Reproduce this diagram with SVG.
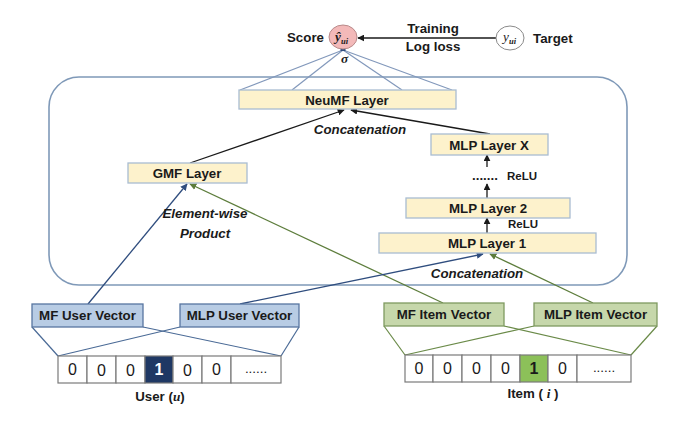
<svg xmlns="http://www.w3.org/2000/svg" width="678" height="422" viewBox="0 0 678 422">
<style>
text{font-family:"Liberation Sans",Arial,sans-serif;font-weight:bold;font-size:13.3px;fill:#1a1a1a}
.c{text-anchor:middle}
.it{font-style:italic}
.sm{font-size:11.5px}
.y{fill:#fdf2cc;stroke:#a9bcd2;stroke-width:1.3}
.ub{fill:#b8cce4;stroke:#5876a0;stroke-width:1.3}
.ib{fill:#c6d7ab;stroke:#7f9a60;stroke-width:1.3}
.cell{fill:#fff;stroke:#7a7a7a;stroke-width:1.2}
.num{font-weight:normal;font-size:16px}
.k{stroke:#1a1a1a;stroke-width:1.3;fill:none}
.b{stroke:#2f4d7e;stroke-width:1.3;fill:none}
.g{stroke:#5d7d3c;stroke-width:1.3;fill:none}
.lb{stroke:#4a6a96;stroke-width:1.2;fill:none}
.lg{stroke:#6a8a48;stroke-width:1.2;fill:none}
.top{stroke:#8298bb;stroke-width:1.2;fill:none}
.serif{font-family:"Liberation Serif","Times New Roman",serif}
</style>
<defs>
<marker id="ak" viewBox="0 0 10 10" refX="9" refY="5" markerWidth="7" markerHeight="7" orient="auto-start-reverse" markerUnits="userSpaceOnUse"><path d="M0,0L10,5L0,10z" fill="#1a1a1a"/></marker>
<marker id="ab" viewBox="0 0 10 10" refX="9" refY="5" markerWidth="7" markerHeight="7" orient="auto" markerUnits="userSpaceOnUse"><path d="M0,0L10,5L0,10z" fill="#2f4d7e"/></marker>
<marker id="ag" viewBox="0 0 10 10" refX="9" refY="5" markerWidth="7" markerHeight="7" orient="auto" markerUnits="userSpaceOnUse"><path d="M0,0L10,5L0,10z" fill="#5d7d3c"/></marker>
</defs>
<rect width="678" height="422" fill="#fff"/>
<rect id="ncf-frame" x="49" y="77" width="578" height="208" rx="30" ry="30" fill="none" stroke="#7f99b8" stroke-width="1.6"/>
<g id="connectors">
<line class="top" x1="240" y1="90" x2="343" y2="50"/>
<line class="top" x1="292" y1="90" x2="343" y2="50"/>
<line class="top" x1="402" y1="90" x2="343" y2="50"/>
<line class="top" x1="452" y1="90" x2="343" y2="50"/>
<rect x="340.5" y="48" width="5" height="3" fill="#2f4d7e"/>
<line class="k" x1="496" y1="38" x2="358" y2="38" marker-end="url(#ak)"/>
<line class="k" x1="190" y1="163" x2="344" y2="110" marker-end="url(#ak)"/>
<line class="k" x1="490" y1="134" x2="351" y2="110" marker-end="url(#ak)"/>
<line class="k" x1="487" y1="167" x2="487" y2="155" marker-end="url(#ak)"/>
<line class="k" x1="487" y1="198" x2="487" y2="184" marker-end="url(#ak)"/>
<line class="k" x1="487" y1="233" x2="487" y2="218" marker-end="url(#ak)"/>
<line class="b" x1="88" y1="304" x2="187" y2="184" marker-end="url(#ab)"/>
<line class="g" x1="443" y1="303" x2="190" y2="184" marker-end="url(#ag)"/>
<line class="b" x1="240" y1="304" x2="483" y2="254" marker-end="url(#ab)"/>
<line class="g" x1="593" y1="303" x2="490" y2="254" marker-end="url(#ag)"/>
<line class="lb" x1="32" y1="327" x2="58" y2="356"/>
<line class="lb" x1="143" y1="327" x2="281" y2="356"/>
<line class="lb" x1="180" y1="327" x2="58" y2="356"/>
<line class="lb" x1="299" y1="327" x2="281" y2="356"/>
<line class="lg" x1="384" y1="326" x2="405" y2="355"/>
<line class="lg" x1="504" y1="326" x2="631" y2="355"/>
<line class="lg" x1="534" y1="326" x2="405" y2="355"/>
<line class="lg" x1="657" y1="326" x2="631" y2="355"/>
</g>
<g id="score">
<ellipse cx="343" cy="37" rx="14" ry="12" fill="#f3b9b9" stroke="#b88a8a" stroke-width="1"/>
<text class="serif it" x="335" y="41" font-size="15">ŷ<tspan font-size="8.5" dy="3">ui</tspan></text>
<text x="287" y="42">Score</text>
<text class="serif it" x="341" y="63" font-size="15">σ</text>
</g>
<g id="target">
<ellipse cx="510" cy="38" rx="14" ry="12" fill="#fff" stroke="#8a8a8a" stroke-width="1"/>
<text class="serif it" x="503" y="41" font-size="15" style="font-weight:normal">y<tspan font-size="8.5" dy="3" style="font-weight:bold">ui</tspan></text>
<text x="533" y="43">Target</text>
</g>
<g id="loss-label">
<text class="c" x="433" y="33">Training</text>
<text class="c" x="433" y="51">Log loss</text>
</g>
<g id="neumf-layer">
<rect class="y" x="239" y="90" width="217" height="19"/>
<text class="c" x="347" y="104.5">NeuMF Layer</text>
</g>
<text class="c it" x="360" y="134">Concatenation</text>
<g id="gmf-layer">
<rect class="y" x="128" y="163" width="119" height="20"/>
<text class="c" x="187" y="178">GMF Layer</text>
</g>
<text class="c it" x="205" y="218">Element-wise</text>
<text class="c it" x="205" y="238">Product</text>
<g id="mlp-layer-x">
<rect class="y" x="431" y="134" width="117" height="21"/>
<text class="c" x="489" y="149.5">MLP Layer X</text>
</g>
<text x="472" y="180">.......</text>
<text class="sm" x="507" y="180">ReLU</text>
<g id="mlp-layer-2">
<rect class="y" x="406" y="198" width="164" height="20"/>
<text class="c" x="488" y="213">MLP Layer 2</text>
</g>
<text class="sm" x="508" y="228">ReLU</text>
<g id="mlp-layer-1">
<rect class="y" x="379" y="233" width="217" height="20"/>
<text class="c" x="487" y="248">MLP Layer 1</text>
</g>
<text class="c it" x="477" y="278">Concatenation</text>
<g id="mf-user-vector">
<rect class="ub" x="32" y="304" width="111" height="23"/>
<text class="c" x="87.5" y="320">MF User Vector</text>
</g>
<g id="mlp-user-vector">
<rect class="ub" x="180" y="304" width="119" height="23"/>
<text class="c" x="239.5" y="320">MLP User Vector</text>
</g>
<g id="mf-item-vector">
<rect class="ib" x="384" y="303" width="120" height="23"/>
<text class="c" x="444" y="319">MF Item Vector</text>
</g>
<g id="mlp-item-vector">
<rect class="ib" x="534" y="303" width="123" height="23"/>
<text class="c" x="595.5" y="319">MLP Item Vector</text>
</g>
<g id="user-onehot">
<rect class="cell" x="58" y="356" width="29" height="27"/>
<rect class="cell" x="87" y="356" width="29" height="27"/>
<rect class="cell" x="116" y="356" width="29" height="27"/>
<rect x="145" y="356" width="28" height="27" fill="#1f3864" stroke="#7a7a7a" stroke-width="1.2"/>
<rect class="cell" x="173" y="356" width="29" height="27"/>
<rect class="cell" x="202" y="356" width="29" height="27"/>
<rect class="cell" x="231" y="356" width="50" height="27"/>
<text class="c num" x="72.5" y="375">0</text>
<text class="c num" x="101.5" y="376">0</text>
<text class="c num" x="130.5" y="376">0</text>
<text class="c num" x="159" y="375" style="fill:#fff;font-weight:bold">1</text>
<text class="c num" x="187.5" y="376">0</text>
<text class="c num" x="216.5" y="375">0</text>
<text class="c" x="256" y="373" font-size="11" style="font-weight:normal">......</text>
<text class="c" x="160" y="401">User (<tspan class="serif it">u</tspan>)</text>
</g>
<g id="item-onehot">
<rect class="cell" x="405" y="355" width="28" height="27"/>
<rect class="cell" x="433" y="355" width="29" height="27"/>
<rect class="cell" x="462" y="355" width="29" height="27"/>
<rect class="cell" x="491" y="355" width="29" height="27"/>
<rect x="520" y="355" width="28" height="27" fill="#8cc059" stroke="#7a7a7a" stroke-width="1.2"/>
<rect class="cell" x="548" y="355" width="29" height="27"/>
<rect class="cell" x="577" y="355" width="54" height="27"/>
<text class="c num" x="419" y="374">0</text>
<text class="c num" x="447.5" y="374">0</text>
<text class="c num" x="476.5" y="374">0</text>
<text class="c num" x="505.5" y="374">0</text>
<text class="c num" x="534" y="374" style="font-weight:bold">1</text>
<text class="c num" x="562.5" y="374">0</text>
<text class="c" x="604" y="372" font-size="11" style="font-weight:normal">......</text>
<text class="c" x="533" y="398">Item ( <tspan class="serif it">i</tspan> )</text>
</g>
</svg>
